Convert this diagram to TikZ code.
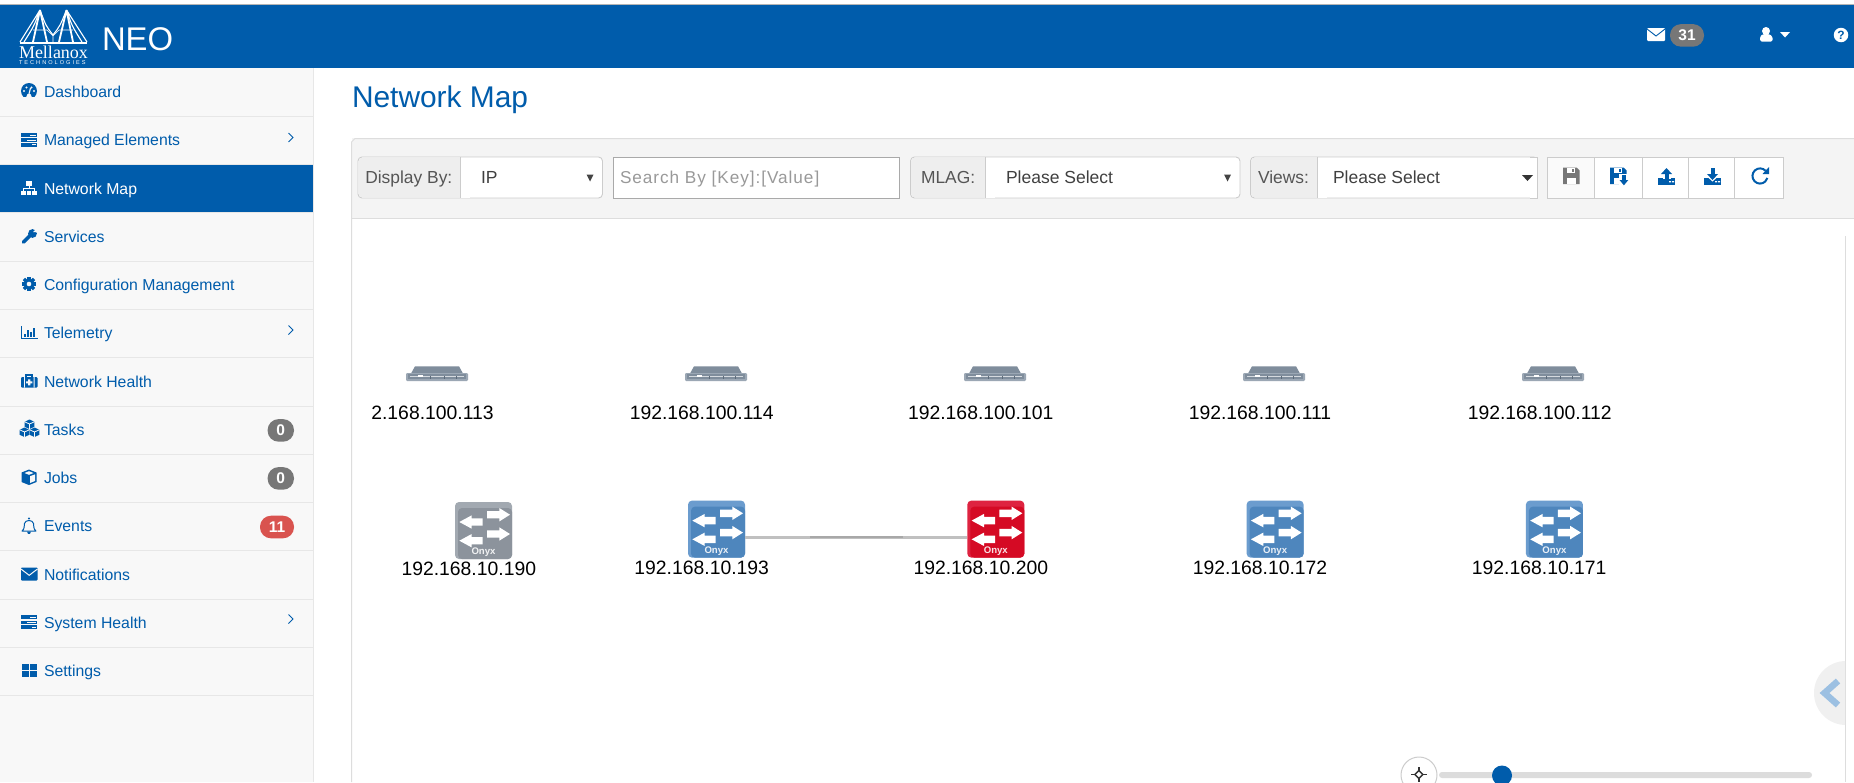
\documentclass[tikz,border=0pt]{standalone}
\usepackage{fontspec}
\setmainfont{Liberation Sans}
\newfontfamily\logoserif{Liberation Serif}
\usetikzlibrary{calc}
\definecolor{neoblue}{HTML}{005CAB}
\definecolor{sidebg}{HTML}{F8F8F8}
\definecolor{sideline}{HTML}{E7E7E7}
\definecolor{panelbg}{HTML}{F4F4F4}
\definecolor{paneline}{HTML}{DDDDDD}
\definecolor{ctlline}{HTML}{CCCCCC}
\definecolor{addon}{HTML}{EEEEEE}
\definecolor{labeltext}{HTML}{555555}
\definecolor{badgegray}{HTML}{777777}
\definecolor{badgered}{HTML}{D9534F}
\definecolor{srvdark}{HTML}{7F8D9C}
\definecolor{srvlight}{HTML}{9BA7B4}
\definecolor{srvline}{HTML}{D5DADF}
\definecolor{srvmark}{HTML}{5D6B7A}
\definecolor{grayout}{HTML}{A2A9B1}
\definecolor{grayface}{HTML}{8C939C}
\definecolor{blueout}{HTML}{6B9CCE}
\definecolor{blueface}{HTML}{4E86BD}
\definecolor{redout}{HTML}{DE2340}
\definecolor{redface}{HTML}{D50A24}
\definecolor{topline}{HTML}{B4B4B4}
\definecolor{arrowdark}{HTML}{444444}
\definecolor{searchline}{HTML}{A9A9A9}
\definecolor{placeholder}{HTML}{999999}
\definecolor{btnoff}{HTML}{FAFAFA}
\definecolor{linklight}{HTML}{C0C0C0}
\definecolor{linkdark}{HTML}{A8A8A8}
\definecolor{tabbg}{HTML}{F0F0F0}
\definecolor{tabchev}{HTML}{9CC0E2}
\definecolor{track}{HTML}{DCDCDC}
\definecolor{movedark}{HTML}{333333}
\newcommand{\fs}[1]{\fontsize{#1}{#1}\selectfont}
\tikzset{
  x=1pt,y=-1pt,
  lbl/.style={inner sep=0pt,outer sep=0pt},
  sidetext/.style={lbl,anchor=base west,text=neoblue,font=\fs{15.8}},
  iplabel/.style={lbl,anchor=base,text=black,font=\fs{19.35}},
  ctltext/.style={lbl,anchor=base west,text=labeltext,font=\fs{17.4}},
  seltext/.style={lbl,anchor=base west,text=black!75,font=\fs{17.5}},
  badge/.style={lbl,rounded corners=11pt,minimum height=22.6pt,text=white,font=\bfseries\fs{15.5}},
  switchbox/.style={lbl,rectangle,minimum width=57pt,minimum height=57pt},
  serverbox/.style={lbl,rectangle,minimum width=62pt,minimum height=15pt},
  link/.style={draw=#1,line width=2.8pt},
  ctlbox/.style={draw=ctlline,line width=0.9pt},
}
% switch icon: name, left, top, outer colour, face colour
\newcommand{\swicon}[5]{%
  \node[switchbox,anchor=north west] (#1) at (#2,#3) {};
  \begin{scope}[shift={(#2,#3)}]
    \fill[#4,rounded corners=4pt] (0,0) rectangle (57,57);
    \fill[#5,rounded corners=4pt] (3,6) rectangle (57,57);
    \fill[white] (32,9) -- (44.3,9) -- (44.3,6) -- (55,12.7) -- (44.3,19.4) -- (44.3,16.4) -- (32,16.4) -- cycle;
    \fill[white] (27.7,16.3) -- (16.7,16.3) -- (16.7,13.3) -- (4.3,20) -- (16.7,26.7) -- (16.7,23.7) -- (27.7,23.7) -- cycle;
    \fill[white] (32,28.3) -- (44.3,28.3) -- (44.3,25.3) -- (55,32) -- (44.3,38.7) -- (44.3,35.7) -- (32,35.7) -- cycle;
    \fill[white] (27.7,35) -- (16.7,35) -- (16.7,32) -- (4.3,38.7) -- (16.7,45.4) -- (16.7,42.4) -- (27.7,42.4) -- cycle;
    \node[lbl,text=white!88!#5,font=\bfseries\fs{9.6}] (#1on) at (28.5,50.5) {Onyx};
  \end{scope}}
% server icon: name, left, top
\newcommand{\svicon}[3]{%
  \node[serverbox,anchor=north west] (#1) at (#2,#3) {};
  \begin{scope}[shift={(#2,#3)}]
    \fill[srvdark] (5,7.5) -- (9,0.3) -- (53,0.3) -- (57,7.5) -- cycle;
    \fill[srvlight,rounded corners=1.2pt] (0,7) rectangle (62,15);
    \fill[srvdark] (2,7.5) rectangle (60,13.2);
    \draw[srvline,line width=0.8pt] (4,10.6) -- (58,10.6);
    \fill[white] (12,9.3) rectangle (17,10.6);
    \foreach \q in {24,38,50} \fill[srvmark] (\q,10) rectangle +(0.8,3);
  \end{scope}}
\newcommand{\sideitem}[3]{\node[sidetext] (#1) at (44,#2+6.2) {#3};}
\newcommand{\chev}[1]{\draw[neoblue,line width=0.9pt] (288.5,#1-4.5) -- (293,#1) -- (288.5,#1+4.5);}
\newcommand{\barsicon}[2]{%
  \begin{scope}[shift={(21,#2)}]
    \fill[#1] (0,-7) rectangle (16,-2.6);
    \fill[#1] (0,-1.4) rectangle (16,2.2);
    \fill[#1] (0,3.4) rectangle (16,7);
    \fill[sidebg] (9,-5) rectangle (15,-4.2);
    \fill[sidebg] (6,0) rectangle (15,0.8);
    \fill[sidebg] (11,4.8) rectangle (15,5.6);
  \end{scope}}
\newcommand{\floppy}[3]{%
  \begin{scope}[shift={(#1,#2)}]
    \fill[#3] (0,0) -- (13.5,0) -- (16.5,3) -- (16.5,16.5) -- (0,16.5) -- cycle;
    \fill[white] (4,0) rectangle (12,5);
    \fill[#3] (9,1) rectangle (11,4);
    \fill[white] (3.5,10) rectangle (13,16.5);
  \end{scope}}
\begin{document}
\begin{tikzpicture}
\useasboundingbox (0,0) rectangle (1854,782);
\clip (0,0) rectangle (1854,782);
\fill[white] (0,0) rectangle (1854,782);
% top bar
\fill[topline] (0,4) rectangle (1854,5);
\fill[neoblue] (0,5) rectangle (1854,68);
% logo
\begin{scope}[white,line width=1.1pt]
  \draw[line width=2pt] (20,42.5) -- (87,42.5);
  \draw[line width=1.8pt] (40,10) -- (33,42) (40,10) -- (47,42) (66.5,10) -- (59,42) (66.5,10) -- (73,42);
  \draw (40,10) -- (20,42) (40,10) .. controls (34,26) .. (24,42);
  \draw (66.5,10) -- (87,42) (66.5,10) .. controls (72,26) .. (82,42);
  \draw (40,10) .. controls (46,26) .. (53,35) .. controls (60,26) .. (66.5,10);
  \draw[line width=0.7pt] (33,30) -- (47,30) (59,30) -- (73,30) (47,30) -- (53,36) -- (59,30) (53,36) -- (53,42);
\end{scope}
\node[lbl,anchor=base west,text=white,font=\logoserif\fs{18}] (logotext) at (19,58) {Mellanox};
\node[lbl,anchor=base west,text=white,font=\fs{5.6}\addfontfeature{LetterSpace=36}] (logosub) at (19,64) {TECHNOLOGIES};
\node[lbl,anchor=base west,text=white,font=\fs{32.8}] (neo) at (102,50) {NEO};
% header right
\fill[white,rounded corners=1pt] (1647,28) rectangle (1665,41);
\draw[neoblue,line width=0.9pt] (1647,29) -- (1656,36) -- (1665,29);
\node[badge,fill=badgegray,minimum width=34pt] (msgs) at (1687,35.4) {31};
\fill[white] (1766,31) circle[radius=4pt];
\fill[white,rounded corners=1.5pt] (1760,41.5) -- (1760,36.5) -- (1763,34) -- (1769,34) -- (1772.5,36.5) -- (1772.5,41.5) -- cycle;
\fill[white] (1780,32) -- (1790,32) -- (1785,37.5) -- cycle;
\node[circle,fill=white,inner sep=0pt,minimum size=14.5pt,text=neoblue,font=\bfseries\fs{12}] (help) at (1841,35) {?};
% sidebar
\fill[sidebg] (0,68) rectangle (313,782);
\draw[sideline,line width=1pt] (313.5,68) -- (313.5,782);
\foreach \yy in {116.5,164.5,212.5,261,309,357.5,406,454,502,550.5,599,647,695}
  \draw[sideline,line width=1pt] (0,\yy) -- (313,\yy);
\fill[neoblue] (0,165) rectangle (313,212);
\sideitem{dash}{91}{Dashboard}
\sideitem{managed}{139.5}{Managed Elements}
\node[sidetext,text=white] (netmap) at (44,194.2) {Network Map};
\sideitem{services}{236}{Services}
\sideitem{config}{284}{Configuration Management}
\sideitem{telemetry}{332.5}{Telemetry}
\sideitem{nethealth}{381}{Network Health}
\sideitem{tasks}{429}{Tasks}
\sideitem{jobs}{477}{Jobs}
\sideitem{events}{525.5}{Events}
\sideitem{notif}{574}{Notifications}
\sideitem{syshealth}{622}{System Health}
\sideitem{settings}{670}{Settings}
\chev{137.5}\chev{330}\chev{619}
\node[badge,fill=badgegray,minimum width=26.4pt] (btasks) at (280.8,430.4) {0};
\node[badge,fill=badgegray,minimum width=26.4pt] (bjobs) at (280.8,478.4) {0};
\node[badge,fill=badgered,minimum width=34pt] (bevents) at (277,527) {11};
% sidebar icons
\begin{scope}[shift={(21,91)}] % gauge
  \fill[neoblue] (8,0) circle[radius=8pt];
  \fill[sidebg] (0,6) rectangle (16,9);
  \fill[sidebg] (5,6.5) -- (6.5,3) -- (9.5,3) -- (11,6.5) -- cycle;
  \foreach \q/\r in {3/0,5.5/-3.5,10.5/-3.5,13/0} \fill[sidebg] (\q,\r) circle[radius=1.1pt];
  \draw[sidebg,line width=1.2pt] (8,3) -- (9.5,-3);
\end{scope}
\barsicon{neoblue}{139.5}
\begin{scope}[shift={(21,188)},white] % sitemap
  \fill (5,-7) rectangle (11,-2.5);
  \draw[line width=0.9pt] (8,-2.5) -- (8,1) (2.5,2.5) -- (2.5,0.5) -- (13.5,0.5) -- (13.5,2.5);
  \fill (0,2.5) rectangle (5,7);
  \fill (5.6,2.5) rectangle (10.4,7);
  \fill (11,2.5) rectangle (16,7);
\end{scope}
\begin{scope}[shift={(21,236)}] % wrench
  \draw[neoblue,line width=3.6pt,line cap=round] (2.5,6.2) -- (10,-1.5);
  \fill[neoblue] (11.5,-2.5) circle[radius=4.4pt];
  \fill[sidebg] (12,-4) -- (16.5,-8) -- (18,-3.5) -- cycle;
\end{scope}
\begin{scope}[shift={(29,284)}] % gear
  \foreach \a in {0,45,...,315} \fill[neoblue,rotate=\a] (-1.6,-7.2) rectangle (1.6,0);
  \fill[neoblue] (0,0) circle[radius=5.5pt];
  \fill[sidebg] (0,0) circle[radius=2.3pt];
\end{scope}
\begin{scope}[shift={(21,332.5)}] % chart
  \draw[neoblue,line width=1pt] (0.5,-6.5) -- (0.5,6) -- (16.5,6);
  \foreach \q/\h in {3/1,6/-3,9/-0.5,12/-5} \fill[neoblue] (\q,\h) rectangle (\q+2,4.7);
\end{scope}
\begin{scope}[shift={(21,381)}] % medkit
  \draw[neoblue,line width=1.1pt] (5,-3.5) -- (5,-6) -- (11,-6) -- (11,-3.5);
  \fill[neoblue,rounded corners=1pt] (0,-3.8) rectangle (16.5,6.5);
  \fill[sidebg] (3,-3.8) rectangle (3.8,6.5) (12.7,-3.8) rectangle (13.5,6.5);
  \fill[sidebg] (7.2,-1.7) rectangle (9.3,4.4) (5.2,0.3) rectangle (11.3,2.4);
\end{scope}
\begin{scope}[shift={(19,429)}] % cubes
  \foreach \q/\r in {10.5/-5,5.5/3,15.5/3} {
    \fill[neoblue] (\q,\r-4.5) -- (\q+4.8,\r-2.2) -- (\q+4.8,\r+2.8) -- (\q,\r+5) -- (\q-4.8,\r+2.8) -- (\q-4.8,\r-2.2) -- cycle;
    \draw[sidebg,line width=0.8pt] (\q-4.8,\r-2.2) -- (\q,\r) -- (\q+4.8,\r-2.2) (\q,\r) -- (\q,\r+5);
  }
\end{scope}
\begin{scope}[shift={(29,477)}] % cube
  \fill[neoblue] (0,-7.5) -- (7.5,-4.5) -- (7.5,5) -- (0,8) -- (-7.5,5) -- (-7.5,-4.5) -- cycle;
  \fill[sidebg] (0,-5.8) -- (4.5,-4) -- (0,-2.2) -- (-4.5,-4) -- cycle;
  \fill[sidebg] (1,-0.8) -- (6,-2.6) -- (6,4) -- (1,6) -- cycle;
\end{scope}
\begin{scope}[shift={(29,526)}] % bell
  \draw[neoblue,line width=1pt,line join=round] (-7,5) .. controls (-4,3) and (-5,-1) .. (-4.5,-2.5) .. controls (-4,-6.5) and (4,-6.5) .. (4.5,-2.5) .. controls (5,-1) and (4,3) .. (7,5) -- cycle;
  \fill[neoblue] (0,-7.5) circle[radius=1.1pt];
  \fill[neoblue] (-2,5.5) -- (2,5.5) -- (1,7.8) -- (-1,7.8) -- cycle;
\end{scope}
\begin{scope}[shift={(21,574)}] % envelope
  \fill[neoblue,rounded corners=0.8pt] (0,-6.5) rectangle (16.5,6.5);
  \draw[sidebg,line width=1pt] (0,-5) -- (8.2,1.3) -- (16.5,-5);
\end{scope}
\barsicon{neoblue}{622}
\begin{scope}[shift={(21,670)}] % grid
  \fill[neoblue] (0.5,-6.5) rectangle (7.5,-0.4);
  \fill[neoblue] (9,-6.5) rectangle (15.5,-0.4);
  \fill[neoblue] (0.5,1) rectangle (7.5,7);
  \fill[neoblue] (9,1) rectangle (15.5,7);
\end{scope}
% title
\node[lbl,anchor=base west,text=neoblue,font=\fs{29.9}] (title) at (352,107) {Network Map};
% panel
\fill[panelbg] (351.5,138) rectangle (1854,218);
\draw[paneline,line width=1pt] (1854,138.5) -- (355,138.5) -- (351.5,142) -- (351.5,782);
\draw[paneline,line width=1pt] (351.5,218.5) -- (1854,218.5);
\draw[paneline,line width=1pt] (1845.5,236) -- (1845.5,782);
% display by
\draw[fill=white,rounded corners=4pt,draw=ctlline,line width=0.9pt] (358,157) rectangle (602.5,198);
\fill[addon,rounded corners=4pt] (358.5,157.5) rectangle (464,197.5);
\fill[white] (460.5,157.5) rectangle (470,197.5);
\draw[ctlline,line width=0.9pt] (460.5,157) -- (460.5,198);
\node[ctltext] (displayby) at (365.3,183.5) {Display By:};
\node[seltext] (ipval) at (481,183.5) {IP};
\fill[arrowdark] (586.5,174.5) -- (593.5,174.5) -- (590,181.5) -- cycle;
% search
\draw[fill=white,draw=searchline,line width=1pt] (613,157) rectangle (899,198);
\node[ctltext,text=placeholder,font=\fs{17.2}\addfontfeature{LetterSpace=5.5}] (search) at (620,183.5) {Search By [Key]:[Value]};
% mlag
\draw[fill=white,rounded corners=4pt,draw=ctlline,line width=0.9pt] (910.5,157) rectangle (1240,198);
\fill[addon,rounded corners=4pt] (911,157.5) rectangle (989,197.5);
\fill[white] (985.5,157.5) rectangle (995,197.5);
\draw[ctlline,line width=0.9pt] (985.5,157) -- (985.5,198);
\node[ctltext] (mlag) at (921,183.5) {MLAG:};
\node[seltext] (mlagval) at (1006,183.5) {Please Select};
\fill[arrowdark] (1224,174.5) -- (1231,174.5) -- (1227.5,181.5) -- cycle;
% views
\draw[fill=white,rounded corners=4pt,draw=ctlline,line width=0.9pt] (1250.5,157) rectangle (1537.5,198);
\fill[white] (1530,157.4) rectangle (1537,197.6);
\draw[ctlline,line width=0.9pt] (1530,157) -- (1537.5,157) -- (1537.5,198) -- (1530,198);
\fill[addon,rounded corners=4pt] (1251,157.5) rectangle (1321,197.5);
\fill[white] (1317.5,157.5) rectangle (1327,197.5);
\draw[ctlline,line width=0.9pt] (1317.5,157) -- (1317.5,198);
\node[ctltext] (views) at (1258,183.5) {Views:};
\node[seltext] (viewsval) at (1333,183.5) {Please Select};
\fill[movedark] (1522,175) -- (1533,175) -- (1527.5,181) -- cycle;
% buttons
\foreach \xa/\xb in {1594/1642.5,1642.5/1688,1688/1734.5,1734.5/1783.5}
  \draw[ctlbox,fill=white] (\xa,157) rectangle (\xb,198);
\draw[ctlbox,fill=btnoff] (1547,157) rectangle (1594,198);
\floppy{1563}{167.5}{badgegray}
\floppy{1610}{167.5}{neoblue}
\fill[white] (1618.5,173.5) rectangle (1630,186);
\fill[neoblue] (1622.2,175) rectangle (1625.6,180);
\fill[neoblue] (1619.5,180) -- (1628.3,180) -- (1623.9,185.3) -- cycle;
\begin{scope}[shift={(1658,168)}] % upload
  \fill[neoblue] (0,10) rectangle (17,17);
  \fill[white] (11,13) rectangle (13,14.3) (14,13) rectangle (16,14.3);
  \fill[white] (4.5,9) rectangle (12.5,11);
  \fill[neoblue] (6.5,5) rectangle (10.5,11.5);
  \fill[neoblue] (8.5,0) -- (14,6) -- (3,6) -- cycle;
\end{scope}
\begin{scope}[shift={(1704,168)}] % download
  \fill[neoblue] (0,10) rectangle (17,17);
  \fill[white] (11,13) rectangle (13,14.3) (14,13) rectangle (16,14.3);
  \fill[white] (3.5,9) -- (13.5,9) -- (8.5,13.5) -- cycle;
  \fill[neoblue] (6.5,0) rectangle (10.5,7);
  \fill[neoblue] (3,6) -- (14,6) -- (8.5,12) -- cycle;
\end{scope}
\begin{scope}[shift={(1760,176)}] % refresh
  \draw[neoblue,line width=2pt] (5.6,-5.2) arc[start angle=43,end angle=345,radius=7.6pt];
  \fill[neoblue] (9,-9) -- (9,-2) -- (2.5,-2) -- cycle;
\end{scope}
% servers
\svicon{sv1}{406}{366}
\svicon{sv2}{685}{366}
\svicon{sv3}{964}{366}
\svicon{sv4}{1243}{366}
\svicon{sv5}{1522}{366}
\node[iplabel] (ip1) at (432.5,419.5) {2.168.100.113};
\node[iplabel] (ip2) at (701.7,419.5) {192.168.100.114};
\node[iplabel] (ip3) at (980.7,419.5) {192.168.100.101};
\node[iplabel] (ip4) at (1260,419.5) {192.168.100.111};
\node[iplabel] (ip5) at (1539.7,419.5) {192.168.100.112};
% switches
\swicon{sw1}{455}{502}{grayout}{grayface}
\swicon{sw2}{688}{500.6}{blueout}{blueface}
\swicon{sw3}{967.3}{500.6}{redout}{redface}
\swicon{sw4}{1246.6}{500.6}{blueout}{blueface}
\swicon{sw5}{1525.9}{500.6}{blueout}{blueface}
\draw[link=linklight] ([yshift=-8pt]sw2.east) -- ([yshift=-8pt]sw3.west);
\coordinate (ma) at (810,537);
\coordinate (mb) at (903,537);
\draw[link=linkdark] (ma) -- (mb);
\node[iplabel] (ip6) at (468.8,575.2) {192.168.10.190};
\node[iplabel] (ip7) at (701.7,574.8) {192.168.10.193};
\node[iplabel] (ip8) at (980.8,574.8) {192.168.10.200};
\node[iplabel] (ip9) at (1260,574.8) {192.168.10.172};
\node[iplabel] (ip10) at (1539.2,574.8) {192.168.10.171};
% side tab
\begin{scope}
  \clip (1800,640) rectangle (1845,750);
  \fill[tabbg] (1846,693) circle[radius=32pt];
\end{scope}
\draw[tabchev,line width=6.5pt] (1838,681) -- (1824.5,693) -- (1838,705);
% zoom
\fill[track,rounded corners=3pt] (1439,772) rectangle (1812,778);
\fill[neoblue] (1502,775.5) circle[radius=10pt];
\draw[black!20,fill=white,line width=1pt] (1419,775) circle[radius=18pt];
\draw[movedark,line width=1.8pt] (1411,774.5) -- (1426.5,774.5) (1418.8,767) -- (1418.8,782);
\fill[movedark] (1418.8,769.5) -- (1423.8,774.5) -- (1418.8,779.5) -- (1413.8,774.5) -- cycle;
\fill[white] (1418.8,771.8) -- (1421.5,774.5) -- (1418.8,777.2) -- (1416.1,774.5) -- cycle;
\end{tikzpicture}
\end{document}
